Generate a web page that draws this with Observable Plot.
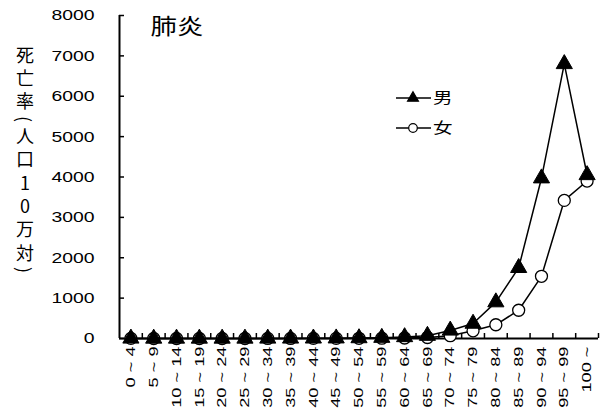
<!DOCTYPE html>
<html><head><meta charset="utf-8">
<script src="https://cdn.jsdelivr.net/npm/d3@7"></script>
<script src="https://cdn.jsdelivr.net/npm/@observablehq/plot@0.6"></script>
<style>
body{margin:0;background:#fff;}
#wrap{position:relative;width:608px;height:412px;font-family:"Liberation Sans",Arial,"Noto Sans CJK JP",sans-serif;}
#wrap svg{display:block;}
#ylabel{position:absolute;left:16px;top:46px;writing-mode:vertical-rl;font-family:"Noto Sans CJK JP",sans-serif;font-size:18px;line-height:18px;letter-spacing:5.3px;color:#000;}
#ylabel .up{text-orientation:upright;}
</style></head><body>
<div id="wrap"><div id="ylabel"></div></div>
<script>
const title = "肺炎";
const yLabelParts = ["死亡率(人口", "10", "万対)"];
const categories = ["0 ~ 4","5 ~ 9","10 ~ 14","15 ~ 19","20 ~ 24","25 ~ 29","30 ~ 34","35 ~ 39","40 ~ 44","45 ~ 49","50 ~ 54","55 ~ 59","60 ~ 64","65 ~ 69","70 ~ 74","75 ~ 79","80 ~ 84","85 ~ 89","90 ~ 94","95 ~ 99","100 ~"];
const male   = [2, 0.5, 0.3, 0.4, 0.6, 0.8, 1.2, 2, 3.5, 6, 11, 20, 37, 70, 200, 370, 900, 1750, 3970, 6800, 4050];
const female = [2, 0.4, 0.3, 0.3, 0.4, 0.5, 0.8, 1.2, 2, 3, 4.5, 7, 12, 25, 70, 190, 340, 700, 1540, 3420, 3900];
const seriesNames = ["男", "女"];
const yTicks = [0, 1000, 2000, 3000, 4000, 5000, 6000, 7000, 8000];

// y label (vertical)
const yl = document.getElementById("ylabel");
yl.appendChild(document.createTextNode(yLabelParts[0]));
const up = document.createElement("span"); up.className = "up"; up.textContent = yLabelParts[1]; yl.appendChild(up);
yl.appendChild(document.createTextNode(yLabelParts[2]));

const W = 608, H = 412, mL = 119, mR = 10, mT = 15, mB = 74;
const step = (W - mL - mR) / categories.length;
const maleData = categories.map((c, i) => ({cat: c, v: male[i]}));
const femaleData = categories.map((c, i) => ({cat: c, v: female[i]}));

const svg = Plot.plot({
  width: W, height: H, marginLeft: mL, marginRight: mR, marginTop: mT, marginBottom: mB,
  style: {fontFamily: '"Liberation Sans", Arial, "Noto Sans CJK JP", sans-serif', color: "#000", background: "#fff", overflow: "visible"},
  x: {type: "point", domain: categories, padding: 0.5, round: false, label: null},
  y: {domain: [0, 8000], label: null},
  marks: [
    Plot.axisX({tickSize: 0, tickPadding: 8, tickRotate: -90, fontSize: 13, label: null}),
    Plot.axisY({ticks: yTicks, tickFormat: d => String(d), tickSize: 0, tickPadding: 25, fontSize: 15.5, label: null}),
    Plot.tickY(yTicks, {y: d => d, insetRight: W - mL - mR - 5, stroke: "#000", strokeWidth: 1.5}),
    Plot.tickX(categories, {x: d => d, dx: step / 2, insetTop: H - mT - mB - 5, stroke: "#000", strokeWidth: 1.5}),
    Plot.ruleY([0], {stroke: "#000", strokeWidth: 2}),
    Plot.ruleX([categories[0]], {dx: -step / 2, stroke: "#000", strokeWidth: 2}),
    Plot.line(femaleData, {x: "cat", y: "v", stroke: "#000", strokeWidth: 1.5}),
    Plot.dot(femaleData, {x: "cat", y: "v", symbol: "circle", r: 6, fill: "#fff", stroke: "#000", strokeWidth: 1.3}),
    Plot.line(maleData, {x: "cat", y: "v", stroke: "#000", strokeWidth: 1.5}),
    Plot.dot(maleData, {x: "cat", y: "v", symbol: "triangle", r: 6, fill: "#000", stroke: "#000", strokeWidth: 1}),
    Plot.text([title], {frameAnchor: "top-left", dx: 31, dy: 3, textAnchor: "start", lineAnchor: "top", fontSize: 22, fill: "#000"})
  ]
});
document.getElementById("wrap").appendChild(svg);

// legend
const lg = d3.select(svg).append("g");
const symbols = [d3.symbolTriangle2, d3.symbolCircle];
const symSize = [Math.PI * 5.2 * 5.2, Math.PI * 4.3 * 4.3];
seriesNames.forEach((name, i) => {
  const y = 98 + i * 30;
  lg.append("line").attr("x1", 396).attr("x2", 431).attr("y1", y).attr("y2", y).attr("stroke", "#000").attr("stroke-width", 1.5);
  lg.append("path").attr("transform", `translate(413,${y})`).attr("d", d3.symbol(symbols[i], symSize[i])())
    .attr("fill", i === 0 ? "#000" : "#fff").attr("stroke", "#000").attr("stroke-width", 1.2);
  lg.append("text").attr("class", "lgtext").attr("x", 433).attr("y", y).attr("dy", "0.36em").attr("text-anchor", "start")
    .attr("font-size", 15).attr("font-family", '"Noto Sans CJK JP", sans-serif').attr("fill", "#000").text(name);
});

function stretch(nodes, f) {
  nodes.forEach(t => {
    const L = t.getComputedTextLength();
    t.setAttribute("textLength", L * f);
    t.setAttribute("lengthAdjust", "spacingAndGlyphs");
  });
}
stretch(svg.querySelectorAll('g[aria-label="x-axis tick label"] text'), 1.4);
stretch(svg.querySelectorAll('g[aria-label="y-axis tick label"] text'), 1.25);
stretch(svg.querySelectorAll('g[aria-label="text"] text'), 1.2);
stretch(svg.querySelectorAll('text.lgtext'), 1.3);
</script>
</body></html>
